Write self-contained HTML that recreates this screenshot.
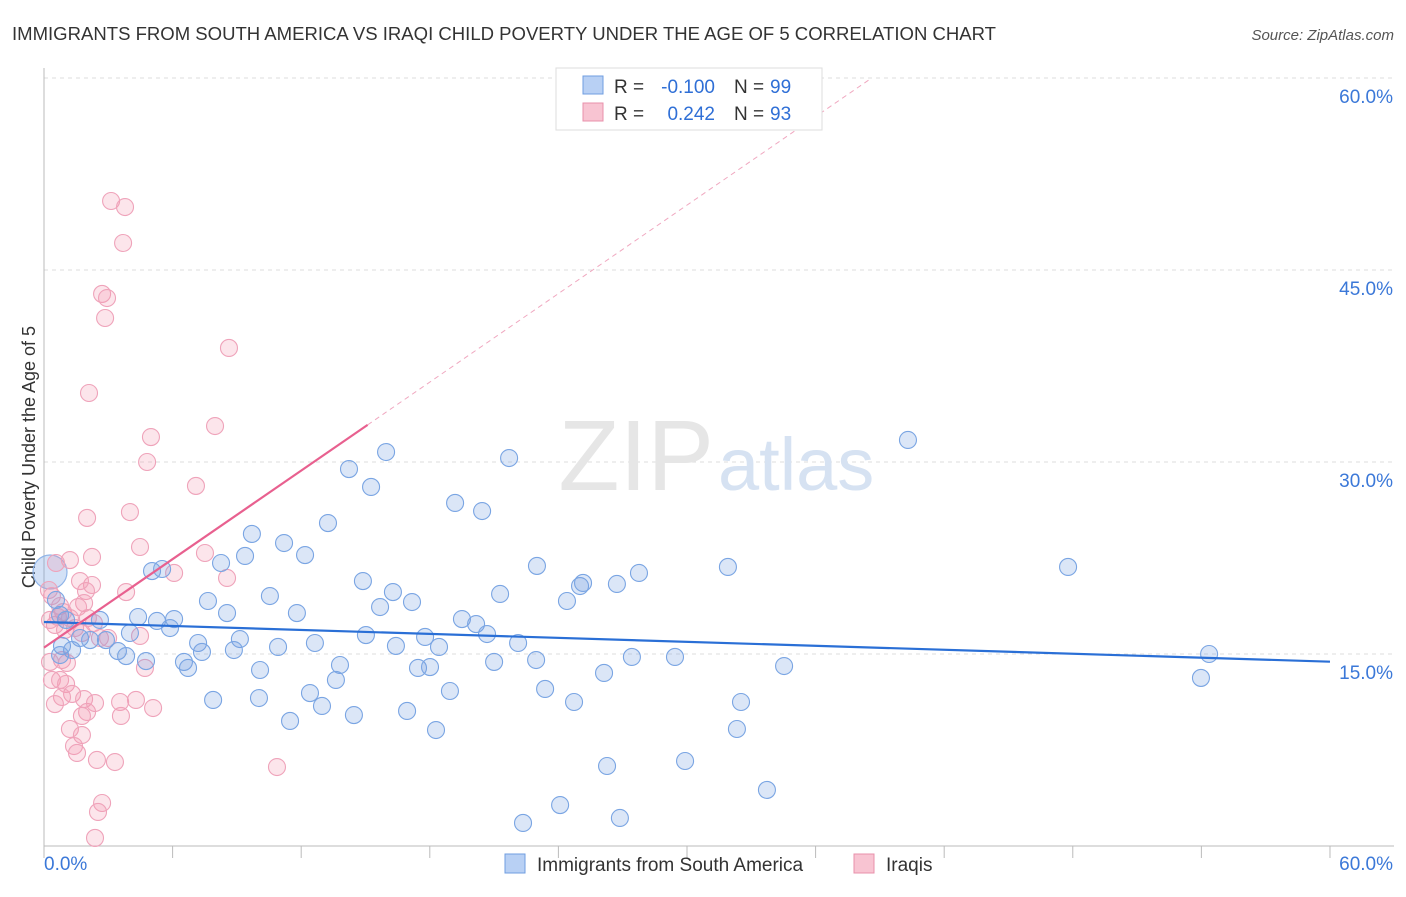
<!DOCTYPE html>
<html><head><meta charset="utf-8"><style>
body{margin:0;background:#fff;font-family:"Liberation Sans",sans-serif;}
svg text{font-family:"Liberation Sans",sans-serif;}
</style></head><body>
<svg id="c" width="1406" height="892" xmlns="http://www.w3.org/2000/svg">
<text x="12" y="40" font-size="18" fill="#333" textLength="984" lengthAdjust="spacingAndGlyphs">IMMIGRANTS FROM SOUTH AMERICA VS IRAQI CHILD POVERTY UNDER THE AGE OF 5 CORRELATION CHART</text>
<text x="1394" y="40" font-size="15" fill="#555" font-style="italic" text-anchor="end">Source: ZipAtlas.com</text>
<text x="35" y="457" font-size="18" fill="#333" transform="rotate(-90 35 457)" text-anchor="middle">Child Poverty Under the Age of 5</text>
<g id="grid"></g>
<text x="714" y="490" font-size="100" fill="#e6e6e6" text-anchor="end" font-family="Liberation Serif">ZIP</text>
<text x="718" y="490" font-size="74" fill="#d6e2f2">atlas</text>
<g id="pts"></g>
<g id="lines"></g>
<g>
<rect x="556" y="68" width="266" height="62" fill="#fff" stroke="#ddd"/>
<rect x="583" y="76" width="20" height="18" fill="#b8d0f4" stroke="#6f9ee0"/>
<rect x="583" y="103" width="20" height="18" fill="#f8c4d2" stroke="#e890ab"/>
<text x="614" y="93" font-size="19" fill="#333">R =</text>
<text x="715" y="93" font-size="19" fill="#2f6fd6" text-anchor="end">-0.100</text>
<text x="734" y="93" font-size="19" fill="#333">N =</text>
<text x="770" y="93" font-size="19" fill="#2f6fd6">99</text>
<text x="614" y="120" font-size="19" fill="#333">R =</text>
<text x="715" y="120" font-size="19" fill="#2f6fd6" text-anchor="end">0.242</text>
<text x="734" y="120" font-size="19" fill="#333">N =</text>
<text x="770" y="120" font-size="19" fill="#2f6fd6">93</text>
</g>
<g>
<rect x="505" y="854" width="20" height="19" fill="#b8d0f4" stroke="#6f9ee0"/>
<text x="537" y="871" font-size="19" fill="#333">Immigrants from South America</text>
<rect x="854" y="854" width="20" height="19" fill="#f8c4d2" stroke="#e890ab"/>
<text x="886" y="871" font-size="19" fill="#333">Iraqis</text>
</g>
</svg>
<script>
const xTicksPct=[0,60];
const yTicks=[15,30,45,60];
const bluePx=[[386,452],[349,469],[371,487],[509,458],[455,503],[482,511],[328,523],[252,534],[284,543],[245,556],[305,555],[152,571],[162,569],[221,563],[270,596],[208,601],[227,613],[297,613],[138,617],[157,621],[174,619],[170,628],[100,620],[130,633],[106,640],[80,638],[62,646],[72,650],[118,651],[126,656],[146,661],[184,662],[188,668],[198,643],[202,652],[240,639],[234,650],[278,647],[315,643],[340,665],[336,680],[310,693],[322,706],[260,670],[259,698],[213,700],[290,721],[354,715],[363,581],[380,607],[393,592],[412,602],[366,635],[396,646],[425,637],[439,647],[418,668],[430,667],[450,691],[407,711],[436,730],[462,619],[476,624],[487,634],[500,594],[518,643],[494,662],[536,660],[545,689],[537,566],[580,586],[583,583],[567,601],[617,584],[639,573],[604,673],[574,702],[632,657],[675,657],[728,567],[741,702],[737,729],[685,761],[607,766],[767,790],[560,805],[523,823],[620,818],[908,440],[1068,567],[1209,654],[1201,678],[784,666],[56,600],[60,615],[66,620],[90,640],[60,655]];
const pinkPx=[[111,201],[125,207],[123,243],[102,294],[107,298],[105,318],[229,348],[89,393],[151,437],[215,426],[147,462],[196,486],[87,518],[130,512],[140,547],[92,557],[70,560],[205,553],[174,573],[227,578],[126,592],[92,585],[86,591],[80,581],[84,603],[78,607],[56,563],[49,590],[52,596],[60,606],[63,612],[55,625],[65,630],[75,628],[82,633],[94,623],[100,638],[108,638],[140,636],[145,668],[62,660],[50,662],[67,663],[52,680],[60,680],[66,684],[72,694],[62,697],[55,704],[84,699],[87,712],[95,703],[82,716],[120,702],[136,700],[153,708],[121,716],[70,729],[82,735],[74,746],[77,753],[97,760],[115,762],[277,767],[102,803],[98,812],[95,838],[58,617],[70,618],[88,618],[50,620]];
const blueX=bluePx.map(p=>+((p[0]-44)/21.433).toFixed(2));
const blueY=bluePx.map(p=>+((846-p[1])/12.8).toFixed(2));
const pinkX=pinkPx.map(p=>+((p[0]-44)/21.433).toFixed(2));
const pinkY=pinkPx.map(p=>+((846-p[1])/12.8).toFixed(2));
const blueTrend=[17.5,14.4];
const pinkTrend=[15.5,32.9,15.1];
const NS="http://www.w3.org/2000/svg";
const X=v=>44+v*21.433, Y=v=>846-v*12.8;
function mk(t,a,p){const e=document.createElementNS(NS,t);for(const k in a)e.setAttribute(k,a[k]);p.appendChild(e);return e;}
const grid=document.getElementById('grid');
yTicks.forEach(t=>{const l=mk('line',{x1:44,x2:1394,y1:Y(t),y2:Y(t),stroke:'#ddd','stroke-dasharray':'4,4'},grid);


const tx=mk('text',{x:1393,y:Y(t)+25,'font-size':19,fill:'#3b78d8','text-anchor':'end'},grid);tx.textContent=t.toFixed(1)+'%';

});
mk('line',{x1:44,x2:44,y1:68,y2:846,stroke:'#bbb'},grid);
mk('line',{x1:44,x2:1394,y1:846,y2:846,stroke:'#bbb'},grid);
for(let i=0;i<=10;i++){mk('line',{x1:X(i*6),x2:X(i*6),y1:846,y2:858,stroke:'#bbb'},grid);}
xTicksPct.forEach((t,i)=>{const tx=mk('text',{x:i?1393:44,y:870,'font-size':19,fill:'#3b78d8','text-anchor':i?'end':'start'},grid);tx.textContent=t.toFixed(1)+'%';

});
const pts=document.getElementById('pts');
const bb=mk('circle',{cx:50,cy:572,r:17,fill:'rgba(110,155,225,0.3)',stroke:'#8fb4e8','stroke-width':1.2},pts);


pinkX.forEach((x,i)=>{const c=mk('circle',{cx:X(x),cy:Y(pinkY[i]),r:8.5,fill:'rgba(245,150,175,0.25)',stroke:'#efa3ba','stroke-width':1.1},pts);

});
blueX.forEach((x,i)=>{const c=mk('circle',{cx:X(x),cy:Y(blueY[i]),r:8.5,fill:'rgba(110,155,225,0.25)',stroke:'#7aa5e3','stroke-width':1.1},pts);

});
const lines=document.getElementById('lines');
const bl=mk('line',{x1:X(0),y1:Y(blueTrend[0]),x2:X(60),y2:Y(blueTrend[1]),stroke:'#2a6fd6','stroke-width':2.2},lines);


const slope=(pinkTrend[1]-pinkTrend[0])/pinkTrend[2];
const pl=mk('line',{x1:X(0),y1:Y(pinkTrend[0]),x2:X(pinkTrend[2]),y2:Y(pinkTrend[1]),stroke:'#e8608f','stroke-width':2.2},lines);


const xe=(60-pinkTrend[0])/slope;
const pd=mk('line',{x1:X(pinkTrend[2]),y1:Y(pinkTrend[1]),x2:X(xe),y2:Y(60),stroke:'#f0a8c0','stroke-width':1,'stroke-dasharray':'5,4'},lines);


</script>
</body></html>
